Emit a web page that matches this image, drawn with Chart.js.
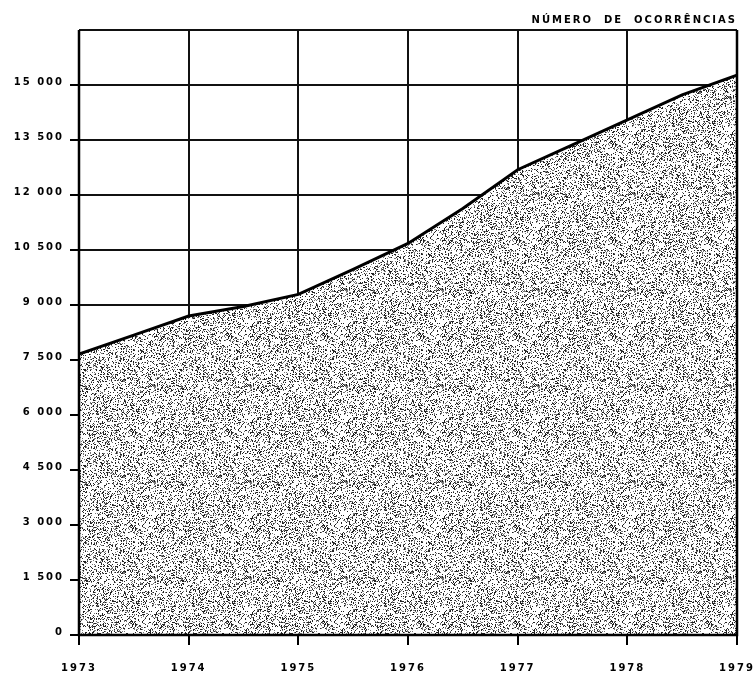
<!DOCTYPE html>
<html>
<head>
<meta charset="utf-8">
<script src="https://cdn.jsdelivr.net/npm/chart.js@4"></script>
<style>
  html, body { margin: 0; padding: 0; background: #fff; }
  #wrap { width: 756px; height: 682px; }
</style>
</head>
<body>
<div id="wrap"><canvas id="chart"></canvas></div>
<script>
// values (half-year points follow the drawn curve)
const years = [1973, 1973.5, 1974, 1974.5, 1975, 1975.5, 1976, 1976.5, 1977, 1977.5, 1978, 1978.5, 1979];
const counts = [7660, 8180, 8700, 8960, 9290, 9970, 10680, 11630, 12690, 13370, 14050, 14730, 15270];
const yearTicks = [1973, 1974, 1975, 1976, 1977, 1978, 1979];
const yMax = 16500;
const yStep = 1500;
const axisTitle = 'NÚMERO  DE  OCORRÊNCIAS';

const FONT = "'DejaVu Sans', sans-serif";

// stippled fill, seeded so it is the same every run
const makeStipple = () => {
    const pc = document.createElement('canvas');
    pc.width = 96; pc.height = 96;
    const g = pc.getContext('2d');
    g.fillStyle = '#fff';
    g.fillRect(0, 0, 96, 96);
    let seed = 12345;
    const rnd = () => { seed = (seed * 1103515245 + 12345) % 2147483648; return seed / 2147483648; };
    for (let i = 0; i < 3000; i++) {
        const x = Math.floor(rnd() * 96), y = Math.floor(rnd() * 96);
        g.fillStyle = rnd() < 0.6 ? '#222' : '#777';
        g.fillRect(x, y, 1, 1);
    }
    return g.createPattern(pc, 'repeat');
}

const fmtThousands = (v) => String(v).replace(/\B(?=(\d{3})+(?!\d))/g, ' ');

const spacingPlugin = {
    id: 'spacing',
    beforeLayout(chart) { chart.ctx.letterSpacing = '2px'; },
    beforeDraw(chart) { chart.ctx.letterSpacing = '2px'; }
};

const framePlugin = {
    id: 'frame',
    afterDatasetsDraw(chart) {
        const {ctx, chartArea: a} = chart;
        ctx.save();
        ctx.strokeStyle = '#000';
        ctx.lineWidth = 2.5;
        ctx.beginPath();
        ctx.moveTo(a.left, a.top);
        ctx.lineTo(a.left, a.bottom);
        ctx.lineTo(a.right, a.bottom);
        ctx.lineTo(a.right, a.top);
        ctx.stroke();
        ctx.restore();
    }
};

const ctx = document.getElementById('chart');
const chart = new Chart(ctx, {
    type: 'line',
    data: {
        datasets: [{
            data: years.map((x, i) => ({x: x, y: counts[i]})),
            borderColor: '#000',
            borderWidth: 3,
            backgroundColor: makeStipple(),
            fill: 'origin',
            pointRadius: 0,
            tension: 0
        }]
    },
    options: {
        responsive: true,
        maintainAspectRatio: false,
        animation: false,
        layout: { padding: { top: 0, right: 19, bottom: 0, left: 0 } },
        plugins: {
            legend: { display: false },
            tooltip: { enabled: false },
            title: {
                display: true,
                text: axisTitle,
                align: 'end',
                color: '#000',
                font: { family: FONT, size: 10, weight: 'bold', lineHeight: 1.2 },
                padding: { top: 14, bottom: 4 }
            }
        },
        scales: {
            x: {
                type: 'linear',
                min: yearTicks[0],
                max: yearTicks[yearTicks.length - 1],
                afterBuildTicks: (s) => { s.ticks = yearTicks.map(v => ({value: v})); },
                afterFit: (s) => { s.height = 47; s.paddingLeft = 0; s.paddingRight = 0; },
                border: { display: false },
                grid: { color: '#111', lineWidth: 2, tickLength: 10, tickColor: '#000', tickWidth: 2 },
                ticks: {
                    color: '#000',
                    padding: 17,
                    maxRotation: 0,
                    font: { family: FONT, size: 10, weight: 'bold' },
                    callback: (v) => String(v)
                }
            },
            y: {
                min: 0,
                max: yMax,
                afterFit: (s) => { s.width = 79; s.paddingTop = 0; s.paddingBottom = 0; },
                border: { display: false },
                grid: {
                    color: '#111',
                    lineWidth: 2,
                    tickLength: 9,
                    tickWidth: 2,
                    tickColor: (c) => (c.tick && c.tick.value === yMax) ? 'rgba(0,0,0,0)' : '#000'
                },
                ticks: {
                    stepSize: yStep,
                    color: '#000',
                    padding: 6,
                    labelOffset: -3,
                    font: { family: FONT, size: 10, weight: 'bold' },
                    callback: (v) => v === yMax ? '' : fmtThousands(v)
                }
            }
        }
    },
    plugins: [spacingPlugin, framePlugin]
});
</script>
</body>
</html>
